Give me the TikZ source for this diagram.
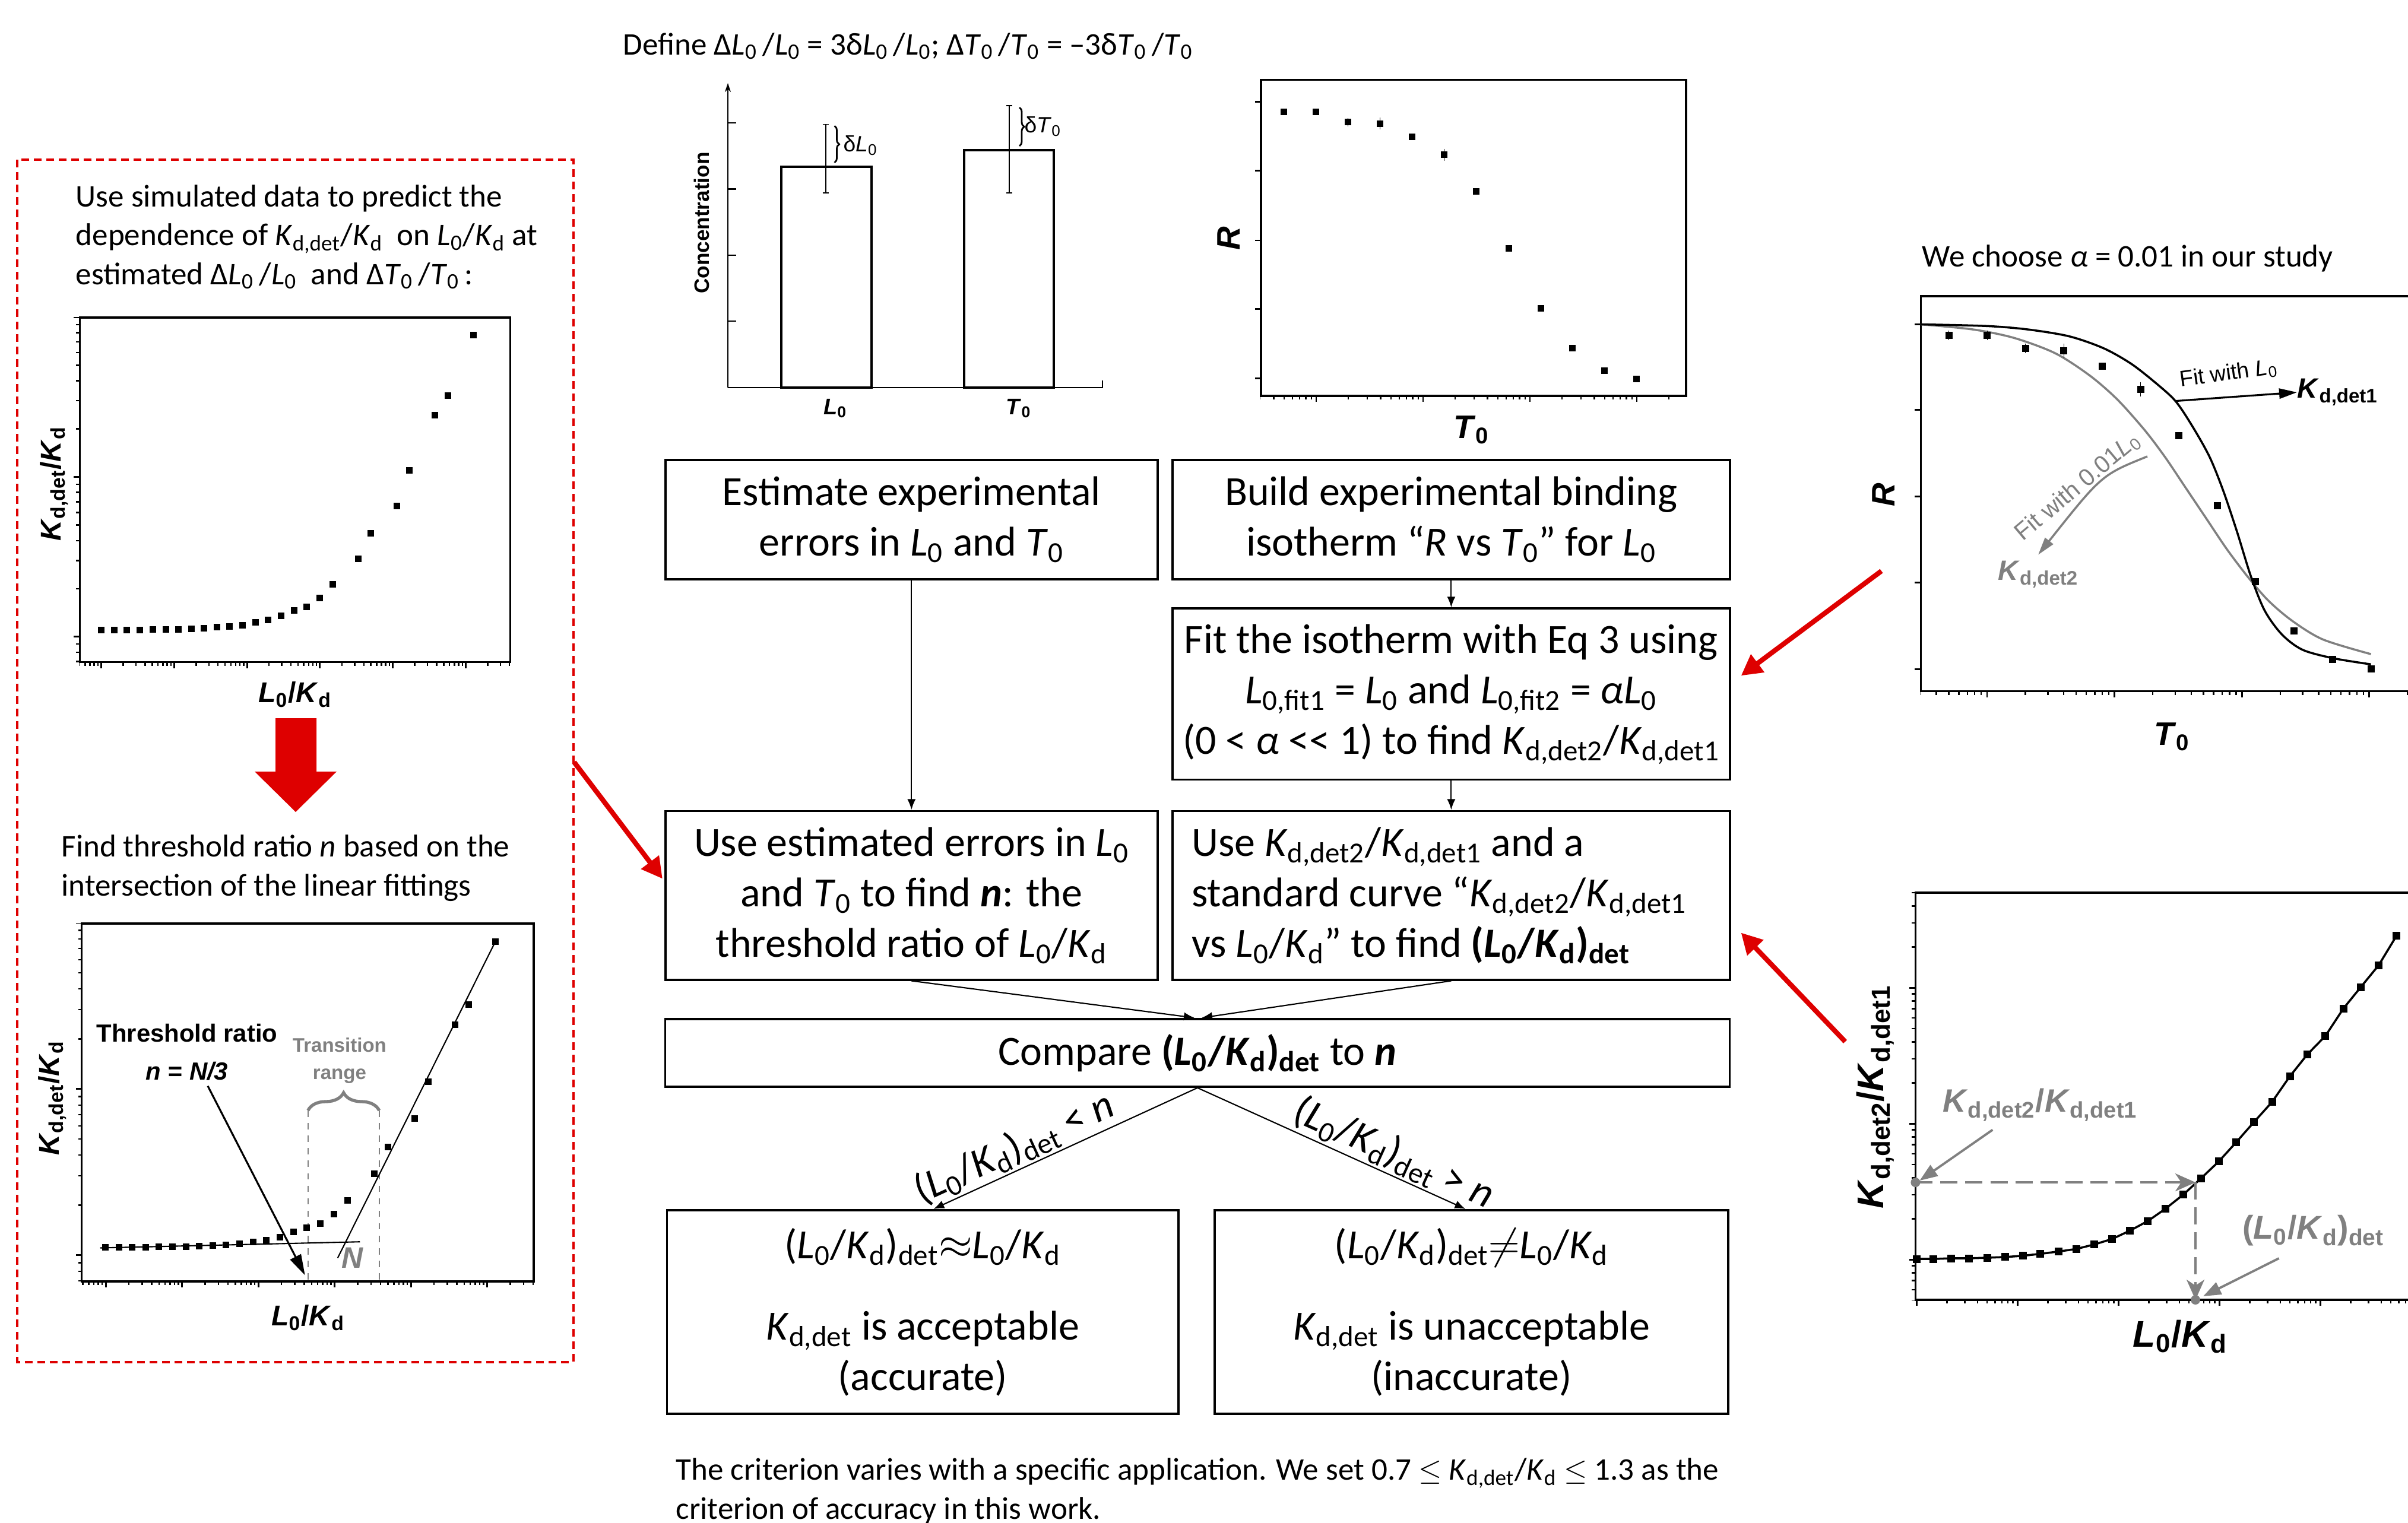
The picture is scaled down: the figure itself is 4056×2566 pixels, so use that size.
\documentclass[tikz,border=0pt]{standalone}
\usepackage{fontspec}
\setmainfont{Carlito}
\newfontfamily\plotfont{Liberation Sans}
\usetikzlibrary{arrows.meta, calc, positioning, decorations.pathreplacing}

\definecolor{markred}{RGB}{222,0,0}
\definecolor{fitgray}{RGB}{128,128,128}

\newcommand{\sub}[1]{\textsubscript{#1}}
\newcommand{\Lo}{\textit{L}\sub{0}}
\newcommand{\To}{\textit{T}\sub{0}}
\newcommand{\Kd}{\textit{K}\sub{d}}
\newcommand{\Kdet}[1]{\textit{K}\sub{d,det#1}}

% log ticks on a horizontal axis: x of a decade, decade length, axis y, left end, right end
\newcommand{\xlogticks}[5]{%
  \begin{scope}
    \clip (#4-0.5,#3-20) rectangle (#5+0.5,#3+20);
    \foreach \dec in {-3,...,6} {
      \draw[line width=0.8pt] ({#1+#2*(\dec)},#3) -- ++(0,10);
      \foreach \mi in {2,...,9}
        \draw[line width=0.7pt] ({#1+#2*(\dec+log10(\mi))},#3) -- ++(0,6);
    }
  \end{scope}}
% the same on a vertical axis: y of a decade, decade length, axis x, top end, bottom end
\newcommand{\ylogticks}[5]{%
  \begin{scope}
    \clip (#3-20,#4-0.5) rectangle (#3+20,#5+0.5);
    \foreach \dec in {-3,...,6} {
      \draw[line width=0.8pt] (#3,{#1-#2*(\dec)}) -- ++(-10,0);
      \foreach \mi in {2,...,9}
        \draw[line width=0.7pt] (#3,{#1-#2*(\dec+log10(\mi))}) -- ++(-6,0);
    }
  \end{scope}}

\begin{document}
\begin{tikzpicture}[x=0.01cm, y=-0.01cm,
    flowbox/.style={draw, line width=1.1pt, align=center, font=\fontsize{19.9}{24.2}\selectfont},
    flow/.style={line width=0.6pt, -{Latex[length=0.18cm, width=0.14cm]}},
    bigred/.style={markred, line width=0.083cm, -{Triangle[length=0.35cm, width=0.36cm]}},
    note/.style={font=\fontsize{15.1}{18.5}\selectfont, align=left, anchor=base west, inner sep=0pt},
    frame/.style={line width=1pt},
    axlabel/.style={font=\plotfont\bfseries\fontsize{13.7}{16}\selectfont, inner sep=0pt},
    rlabel/.style={font=\plotfont\bfseries\fontsize{15.6}{18}\selectfont, inner sep=0pt},
    biglabel/.style={font=\plotfont\bfseries\fontsize{17.8}{20}\selectfont, inner sep=0pt},
    small/.style={font=\plotfont\fontsize{10.6}{12}\selectfont, inner sep=0pt}]

\useasboundingbox (0,0) rectangle (4056,2566);
\clip (0,0) rectangle (4056,2566);

% ---- flow chart
\node[flowbox, minimum width=8.285cm, minimum height=2.01cm] (est) at (1535.3,875.5)
  {Estimate experimental\\ errors in \Lo{} and \To};
\node[flowbox, minimum width=9.38cm, minimum height=2.01cm] (build) at (2444.4,875.5)
  {Build experimental binding\\ isotherm “\textit{R} vs \To” for \Lo};
\node[flowbox, minimum width=9.38cm, minimum height=2.88cm] (fit) at (2444.4,1169.4)
  {Fit the isotherm with Eq 3 using\\ \textit{L}\sub{0,fit1} = \Lo{} and \textit{L}\sub{0,fit2} = \textit{α}\Lo\\
   (0 < \textit{α} <{}< 1) to find \Kdet{2}/\Kdet{1}};
\node[flowbox, minimum width=8.285cm, minimum height=2.84cm] (useerr) at (1535.3,1508.5)
  {Use estimated errors in \Lo\\ and \To{} to find \textbf{\textit{n}}: the\\ threshold ratio of \Lo/\Kd};
\node[flowbox, align=flush left, text width=8.74cm, minimum width=9.38cm, minimum height=2.84cm] (usek) at (2444.4,1508.5)
  {Use \Kdet{2}/\Kdet{1} and a\\ standard curve “\Kdet{2}/\Kdet{1}\\ vs \Lo/\Kd” to find \textbf{(\Lo/\Kd)\sub{det}}};
\node[flowbox, minimum width=17.92cm, minimum height=1.14cm] (cmp) at (2017,1773.8)
  {Compare \textbf{(\Lo/\Kd)\sub{det}} to \textbf{\textit{n}}};
\node[flowbox, minimum width=8.61cm, minimum height=3.43cm] (acc) at (1554.3,2210.5)
  {(\Lo/\Kd)\sub{det}$\approx$\Lo/\Kd\\[0.74em] \Kdet{} is acceptable\\ (accurate)};
\node[flowbox, minimum width=8.65cm, minimum height=3.43cm] (inacc) at (2478.5,2210.5)
  {(\Lo/\Kd)\sub{det}$\neq$\Lo/\Kd\\[0.74em] \Kdet{} is unacceptable\\ (inaccurate)};

\draw[flow] (est) -- (useerr);
\draw[flow] (build) -- (fit);
\draw[flow] (fit) -- (usek);
\draw[flow] (useerr.south) -- ([xshift=-0.05cm]cmp.north);
\draw[flow] (usek.south) -- ([xshift=0.07cm]cmp.north);
\draw[flow] (cmp.south) -- node[pos=0.66, sloped, above, inner sep=1pt, font=\fontsize{19.9}{24.2}\selectfont] (lower)
  {(\Lo/\Kd)\sub{det} < \textit{n}} ([xshift=0.18cm]acc.north);
\draw[flow] (cmp.south) -- node[pos=0.7, sloped, above, inner sep=1pt, font=\fontsize{19.9}{24.2}\selectfont] (higher)
  {(\Lo/\Kd)\sub{det} > \textit{n}} ([xshift=-0.1cm]inacc.north);

\node[note] (define) at (1049,92)
  {Define Δ\Lo\,/\Lo{} = 3δ\Lo\,/\Lo; Δ\To\,/\To{} = –3δ\To\,/\To};
\node[note] (alpha) at (3237,449) {We choose \textit{α} = 0.01 in our study};
% multi-line notes sit on the baseline of their last line
\node[note] (criterion) at (1138,2559)
  {The criterion varies with a specific application. We set 0.7 $\leq$ \Kdet{}/\Kd{} $\leq$ 1.3 as the\\
   criterion of accuracy in this work.};

% ---- concentrations with errors
\draw[line width=0.6pt, -{Stealth[length=0.15cm, width=0.1cm]}] (1226,653) -- (1226,140);
\draw[line width=0.6pt] (1226,653) -- (1857,653) -- (1857,641);
\foreach \y in {207,318.5,430,541.4}
  \draw[line width=0.6pt] (1226,\y) -- ++(14,0);
\draw[line width=1.2pt, fill=white] (1315.7,653) rectangle (1468,281);
\draw[line width=1.2pt, fill=white] (1624,653) rectangle (1775,253);
\foreach \x/\ya/\yb in {1390.7/209.4/324.7, 1700/178/324.7}
  \draw[line width=0.5pt] (\x,\ya) -- (\x,\yb) (\x-5,\ya) -- (\x+5,\ya) (\x-5,\yb) -- (\x+5,\yb);
\draw[line width=0.8pt, decorate, decoration={brace, amplitude=0.08cm}] (1405.5,212) -- (1405.5,274);
\draw[line width=0.8pt, decorate, decoration={brace, amplitude=0.08cm}] (1717,181) -- (1717,246);
\node[small, anchor=west] (dL) at (1420,245) {δ\textit{L}\sub{0}};
\node[small, anchor=west] (dT) at (1725,213) {δ\textit{T}\sub{0}};
\node[rotate=90, font=\plotfont\bfseries\fontsize{10}{12}\selectfont] (conc) at (1182,375.6) {Concentration};
\node[font=\plotfont\bfseries\fontsize{10.8}{12}\selectfont] (barL) at (1407,688) {\textit{L}\sub{0}};
\node[font=\plotfont\bfseries\fontsize{10.8}{12}\selectfont] (barT) at (1716,688) {\textit{T}\sub{0}};

% ---- binding isotherm
\draw[frame] (2124,134.7) rectangle (2840,666.8);
\foreach \y in {171.6,287.8,404.9,520.7,637.8}
  \draw[line width=0.8pt] (2124,\y) -- ++(-10,0);
\xlogticks{2217}{180}{666.8}{2124}{2840}
\foreach \x/\y/\e in {2162.4/188.9/5, 2216.9/188/5, 2270.8/205.8/7, 2324.8/208.4/10, 2378.7/230.5/0,
    2432.6/260.5/10, 2486.5/322.9/4, 2541/418.3/0, 2595/519.8/0, 2648.9/586.6/0, 2702.8/624.8/0, 2756.8/638.2/0} {
  \draw[line width=0.3pt] (\x,\y-\e) -- (\x,\y+\e);
  \fill (\x,\y) +(-5.5,-5.5) rectangle +(5.5,5.5);
}
\node[rlabel, rotate=90] (isoR) at (2069.7,401.4) {\textit{R}};
\node[rlabel] (isoT) at (2478.7,724.5) {\textit{T}\sub{0}};

% ---- two fits of the isotherm
\draw[frame] (4070,498.8) -- (3235.5,498.8) -- (3235.5,1164.7) -- (4070,1164.7);
\foreach \y in {546.5,690.5,836.3,981.6,1127.3}
  \draw[line width=0.8pt] (3235.5,\y) -- ++(-11,0);
\xlogticks{3347}{214.6}{1164.7}{3235.5}{4056}
\draw[fitgray, line width=1pt] plot[smooth] coordinates {(3235.5,546.5) (3323.3,555.1) (3392.7,569.4)
  (3462,595.3) (3519.8,632.6) (3566,672.7) (3612.2,724.4) (3646.9,770.3) (3681.6,822) (3716.2,873.6)
  (3750.9,925.3) (3785.6,971.2) (3820.2,1011.4) (3860.7,1045.8) (3912.7,1077.4) (3993.6,1102.1)};
\draw[line width=1pt] plot[smooth] coordinates {(3235.5,546.5) (3346.5,549.3) (3415.8,555.1)
  (3485.1,566.6) (3542.9,586.6) (3589.1,612.5) (3629.6,644) (3664.2,675.6) (3693.1,718.7) (3722,770.3)
  (3745.1,827.7) (3768.2,896.6) (3791.4,971.2) (3814.5,1028.6) (3843.4,1068.8) (3878,1094.6)
  (3930,1109) (3993.6,1119.3)};
\foreach \x/\y/\e in {3282.9/565.4/8, 3347/564.8/8, 3411.7/586.6/8, 3476.4/590.7/12, 3541.2/617.1/0,
    3605.9/655.5/12, 3670/733.6/0, 3735.3/852.4/0, 3799.4/979.8/0, 3864.2/1063/0, 3928.9/1111.3/0, 3993.6/1127.3/0} {
  \draw[line width=0.3pt] (\x,\y-\e) -- (\x,\y+\e);
  \fill (\x,\y) +(-6,-6) rectangle +(6,6);
}
\node[small, rotate=8] (fitone) at (3754,630) {Fit with \textit{L}\sub{0}};
\node[anchor=west, inner sep=0pt, font=\plotfont\bfseries\fontsize{13.4}{15}\selectfont] (kone) at (3869,661)
  {\textit{K}\sub{d,det1}};
\coordinate (fitonefrom) at (3664.2,675.6);
\draw[line width=0.9pt, -{Triangle[length=0.3cm, width=0.17cm]}] (fitonefrom) -- (kone.west);
\node[small, fitgray, rotate=40, font=\plotfont\fontsize{11.6}{13}\selectfont] (fittwo) at (3500,820)
  {Fit with 0.01\textit{L}\sub{0}};
\node[fitgray, inner sep=0pt, font=\plotfont\bfseries\fontsize{13.4}{15}\selectfont] (ktwo) at (3433,968)
  {\textit{K}\sub{d,det2}};
\coordinate (fittwofrom) at (3617,769);
\draw[fitgray, line width=1pt, -{Triangle[length=0.3cm, width=0.17cm]}]
  (fittwofrom) .. controls (3540,800) .. ([yshift=0.1cm]ktwo.north);
\node[rlabel, rotate=90] (fitR) at (3173,833.5) {\textit{R}};
\node[rlabel] (fitT) at (3658.5,1241) {\textit{T}\sub{0}};

% ---- standard curve
\draw[frame] (4070,1504.2) -- (3226.4,1504.2) -- (3226.4,2190) -- (4070,2190);
\xlogticks{3228.4}{170}{2190}{3226.4}{4056}
\ylogticks{2122.2}{229}{3226.4}{1504.2}{2190}
\foreach \x/\y [remember=\x as \lx (initially 3228.4), remember=\y as \ly (initially 2121.1)] in
  {3228.4/2121.1, 3256.6/2121.1, 3286.7/2120, 3316.9/2120, 3347/2119, 3377.2/2117.9, 3407.4/2115.7,
   3436.9/2112.5, 3467/2108.6, 3497.2/2104.3, 3527.4/2096.7, 3557.5/2087.5, 3587.7/2073.4, 3617.8/2057.2,
   3647.3/2036.6, 3677.5/2012.7, 3707/1985.6, 3737.2/1956.9, 3766.7/1924.3, 3796.8/1890.2, 3827/1856.6,
   3857.1/1813.2, 3886.6/1776.3, 3916.8/1745.4, 3947/1699.4, 3976.5/1663, 4006.6/1626.2, 4036.8/1576.3} {
  \draw[line width=1pt] (\lx,\ly) -- (\x,\y);
  \fill (\x,\y) +(-6.5,-6.5) rectangle +(6.5,6.5);
}
\coordinate (ratiopt) at (3226.4,1992.1);
\coordinate (hit) at (3698,1992.1);
\coordinate (detpt) at (3698,2190);
\draw[fitgray, line width=1.1pt, dash pattern=on 0.29cm off 0.13cm,
  -{Stealth[length=0.34cm, width=0.3cm, inset=0.1cm]}] (ratiopt) -- (hit);
\draw[fitgray, line width=1.1pt, dash pattern=on 0.29cm off 0.13cm,
  -{Stealth[length=0.34cm, width=0.3cm, inset=0.1cm]}] (hit) -- (detpt);
\fill[fitgray] (ratiopt) circle[radius=0.08cm];
\fill[fitgray] (detpt) circle[radius=0.08cm];
\node[fitgray, font=\plotfont\bfseries\fontsize{15.5}{17}\selectfont, inner sep=0pt] (ratiolbl) at (3436.4,1862)
  {\textit{K}\sub{d,det2}/\textit{K}\sub{d,det1}};
\node[fitgray, font=\plotfont\bfseries\fontsize{15.8}{17}\selectfont, inner sep=0pt] (detlbl) at (3896.8,2073.4)
  {(\textit{L}\sub{0}/\textit{K}\sub{d})\sub{det}};
\draw[fitgray, line width=1.1pt, -{Triangle[length=0.3cm, width=0.22cm]}]
  ($(ratiolbl.south west)+(85,13)$) -- ([xshift=0.07cm, yshift=0.03cm]ratiopt);
\draw[fitgray, line width=1.1pt, -{Triangle[length=0.3cm, width=0.22cm]}]
  ($(detlbl.south west)+(62,20)$) -- ([xshift=0.13cm, yshift=0.06cm]detpt);
\node[biglabel, rotate=90] (stdY) at (3159,1848) {\textit{K}\sub{d,det2}/\textit{K}\sub{d,det1}};
\node[biglabel] (stdX) at (3672.4,2252) {\textit{L}\sub{0}/\textit{K}\sub{d}};

% ---- simulated data panel
\draw[markred, line width=0.04cm, dash pattern=on 0.13cm off 0.08cm] (29.4,269) rectangle (965.6,2295);
\node[note] (simtext) at (127,479)
  {Use simulated data to predict the\\ dependence of \Kdet{}/\Kd\ \ on \Lo/\Kd{} at\\
   estimated Δ\Lo\,/\Lo\ \ and Δ\To\,/\To\,:};
\draw[frame] (134.4,535) rectangle (859.4,1115.5);
\xlogticks{170.6}{122.75}{1115.5}{134.4}{859.4}
\ylogticks{1072.8}{269.2}{134.4}{535}{1115.5}
\foreach \x/\y in {170.6/1061.3, 192.5/1061.3, 213.75/1061.3, 235.6/1061.3, 257.5/1060.6, 279.4/1060.6,
    300.6/1060, 322.5/1059.4, 343.75/1058.1, 365.6/1056.8, 386.9/1055.5, 408.75/1053, 430/1048.5,
    451.9/1044, 473.1/1037, 495/1028.8, 516.9/1022.4, 538.1/1007.1, 560/984.7, 603.1/941.4, 624.4/898,
    668.1/852.1, 689.4/792.1, 732.5/699.6, 754.4/666.5, 797.5/564.4}
  \fill (\x,\y) +(-5.5,-5.5) rectangle +(5.5,5.5);
\node[axlabel, rotate=90] (simY) at (91,815) {\textit{K}\sub{d,det}/\textit{K}\sub{d}};
\node[axlabel] (simX) at (497,1170) {\textit{L}\sub{0}/\textit{K}\sub{d}};

\fill[markred] (464,1210) -- (533,1210) -- (533,1300) -- (567,1300) -- (498,1368) -- (429,1300)
  -- (464,1300) -- cycle;

\node[note] (thrtext) at (103,1509)
  {Find threshold ratio \textit{n} based on the\\ intersection of the linear fittings};
\draw[frame] (137.5,1556) rectangle (898.75,2158.9);
\xlogticks{178.1}{128.5}{2158.9}{137.5}{898.75}
\ylogticks{2114.6}{280}{137.5}{1556}{2158.9}
\draw[fitgray, line width=0.5pt, dashed] (518.75,1871) -- (518.75,2158.9) (638.75,1871) -- (638.75,2158.9);
\draw[fitgray, line width=1.5pt, decorate, decoration={brace, amplitude=0.3cm}] (518.75,1871) -- (638.75,1871);
\draw[line width=0.6pt] (168.75,2102.5) -- (606.25,2092.2);
\draw[line width=0.6pt] (568.75,2119.5) -- (834.4,1586.3);
\foreach \x/\y in {177.5/2101.3, 200/2101.3, 222.5/2101.3, 245/2101.3, 267.5/2100.7, 290/2100.7,
    313.1/2100.1, 335.6/2099.5, 358.1/2098.9, 380.6/2097.7, 403.75/2095.3, 426.25/2092.2, 448.75/2089.2,
    471.9/2084.4, 494.4/2075.9, 516.9/2068.6, 539.4/2061.3, 562.5/2045, 585/2022, 630.6/1977.7,
    653.1/1932.3, 698.75/1884.4, 721.25/1822.6, 766.9/1726.3, 789.4/1692.3, 834.4/1586.3}
  \fill (\x,\y) +(-5.5,-5.5) rectangle +(5.5,5.5);
\node[fitgray, align=center, inner sep=0pt, font=\plotfont\bfseries\fontsize{9.4}{13.3}\selectfont] (trans)
  at (571.9,1787) {Transition\\ range};
\node[fitgray, inner sep=0pt, font=\plotfont\bfseries\fontsize{14.2}{16}\selectfont] (bigN) at (593.75,2119.5) {\textit{N}};
\node[align=center, inner sep=0pt, font=\plotfont\bfseries\fontsize{11.9}{18.1}\selectfont] (thr)
  at (315,1772.6) {Threshold ratio\\ \textit{n = N/3}};
\coordinate (nthr) at (513.75,2148.6);
\draw[line width=0.9pt, -{Triangle[length=0.35cm, width=0.2cm]}] ($(thr.south)+(35,9)$) -- (nthr);
\node[axlabel, rotate=90] (thrY) at (88,1850) {\textit{K}\sub{d,det}/\textit{K}\sub{d}};
\node[axlabel] (thrX) at (519,2220) {\textit{L}\sub{0}/\textit{K}\sub{d}};

% ---- red pointers into the flow chart
\coordinate (panelout) at (967,1284);
\coordinate (fitplot) at (3169,962);
\coordinate (curveplot) at (3108,1755);
\draw[bigred] (panelout) -- ($(useerr.west)+(-3,-28)$);
\draw[bigred] (fitplot) -- ($(fit.east)+(17,-31)$);
\draw[bigred] (curveplot) -- ($(usek.east)+(17,63)$);
\end{tikzpicture}
\end{document}
